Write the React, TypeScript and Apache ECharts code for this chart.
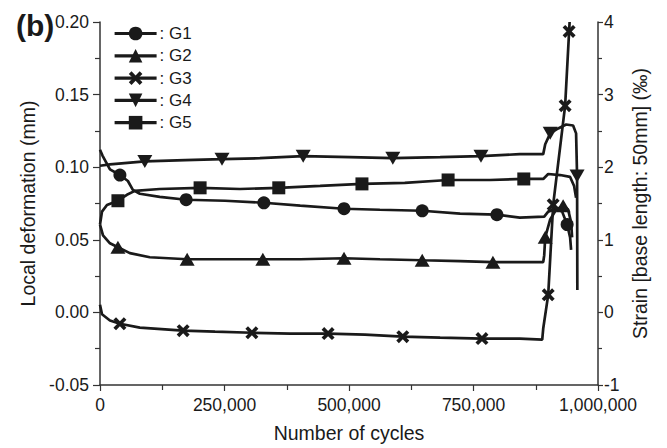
import React, { useEffect, useRef } from "react";
import * as echarts from "echarts";

// ---- data (cycles, local deformation in mm) ----
const xTicks = [0, 250000, 500000, 750000, 1000000];
const seriesNames = ["G1", "G2", "G3", "G4", "G5"];

const g1Points: [number, number][] = [
  [0, 0.112], [5000, 0.108], [20000, 0.0985], [40000, 0.0946], [56000, 0.0905],
  [66000, 0.0844], [80000, 0.0817], [120000, 0.0796], [173000, 0.0776], [251000, 0.0769],
  [329000, 0.0755], [402000, 0.0735], [490000, 0.0714], [562000, 0.0707], [647000, 0.07],
  [723000, 0.068], [797000, 0.0673], [843000, 0.0653], [892000, 0.066], [900000, 0.0694],
  [916000, 0.0714], [928000, 0.0694], [938000, 0.0605], [944000, 0.0517], [946000, 0.043],
];
const g1Markers = [40000, 173000, 329000, 490000, 647000, 797000, 938000];

const g2Points: [number, number][] = [
  [0, 0.0605], [6000, 0.053], [20000, 0.0476], [36000, 0.0449], [60000, 0.0408],
  [100000, 0.038], [175000, 0.0366], [327000, 0.0366], [402000, 0.0366], [490000, 0.0373],
  [562000, 0.0366], [647000, 0.0359], [723000, 0.0353], [789000, 0.0346], [890000, 0.0346],
  [892000, 0.0394], [894000, 0.0517], [904000, 0.064], [916000, 0.0708], [930000, 0.0735],
  [940000, 0.0708], [946000, 0.062], [948000, 0.0517],
];
const g2Markers = [36000, 175000, 327000, 490000, 647000, 789000, 894000, 930000];

const g3Points: [number, number][] = [
  [0, 0.0053], [4000, -0.0013], [20000, -0.0056], [40000, -0.0078], [80000, -0.0105],
  [167000, -0.0126], [231000, -0.0133], [305000, -0.014], [382000, -0.0146], [458000, -0.0146],
  [532000, -0.0153], [608000, -0.0167], [683000, -0.0174], [767000, -0.018], [843000, -0.018],
  [888000, -0.0187], [890000, -0.0111], [900000, 0.0121], [910000, 0.0742], [934000, 0.1424],
  [942000, 0.1935], [943000, 0.2],
];
const g3Markers = [40000, 167000, 305000, 458000, 608000, 767000, 900000, 910000, 934000, 942000];

const g4Points: [number, number][] = [
  [0, 0.101], [20000, 0.102], [90000, 0.104], [171000, 0.1049], [245000, 0.1055],
  [321000, 0.1062], [408000, 0.1076], [502000, 0.1069], [588000, 0.1062], [683000, 0.1069],
  [765000, 0.1076], [843000, 0.109], [890000, 0.109], [894000, 0.1158], [904000, 0.1233],
  [920000, 0.1267], [936000, 0.1294], [950000, 0.1287], [956000, 0.1233], [958000, 0.094],
  [958500, 0.0155],
];
const g4Markers = [90000, 245000, 408000, 588000, 765000, 904000, 958000];

const g5Points: [number, number][] = [
  [0, 0.0605], [4000, 0.0694], [14000, 0.074], [36000, 0.0769], [54000, 0.081],
  [70000, 0.0837], [120000, 0.085], [201000, 0.0858], [281000, 0.085], [359000, 0.0858],
  [442000, 0.0871], [526000, 0.0885], [612000, 0.0892], [699000, 0.0912], [783000, 0.0912],
  [851000, 0.0919], [890000, 0.0919], [900000, 0.0953], [924000, 0.0946], [944000, 0.0933],
  [952000, 0.0871], [956000, 0.079],
];
const g5Markers = [36000, 201000, 359000, 526000, 699000, 851000];

const FONT = "'Liberation Sans', Arial, Helvetica, sans-serif";
const INK = "#1a1a1a";

function buildData(points: [number, number][], markers: number[]) {
  return points.map((p) =>
    markers.includes(p[0]) ? { value: p } : { value: p, symbol: "none" }
  );
}

const X_SYMBOL =
  "path://M0,2 L2,0 L5,3 L8,0 L10,2 L7,5 L10,8 L8,10 L5,7 L2,10 L0,8 L3,5 Z";
const DOWN_TRI = "path://M0,0 L10,0 L5,9 Z";

export default function App() {
  const ref = useRef<HTMLDivElement>(null);
  useEffect(() => {
    if (!ref.current) return;
    const chart = echarts.init(ref.current, null, { renderer: "svg" });
    const mk = (
      name: string,
      pts: [number, number][],
      markers: number[],
      symbol: string,
      size: number | number[]
    ) => ({
      name,
      type: "line",
      data: buildData(pts, markers),
      symbol,
      symbolSize: size,
      showSymbol: true,
      showAllSymbol: true,
      symbolKeepAspect: false,
      lineStyle: { color: INK, width: 2.7 },
      itemStyle: { color: INK, borderWidth: 0 },
      clip: true,
      z: 3,
    });
    chart.setOption({
      animation: false,
      backgroundColor: "#ffffff",
      textStyle: { fontFamily: FONT },
      title: {
        text: "(b)",
        left: 11,
        top: 5,
        textStyle: { fontFamily: FONT, fontSize: 30, fontWeight: "bold", color: INK },
      },
      grid: { left: 100, right: 69, top: 22, bottom: 59, containLabel: false },
      legend: {
        left: 113,
        top: 25,
        padding: 0,
        orient: "vertical",
        itemWidth: 42,
        itemHeight: 17,
        itemGap: 5.3,
        data: seriesNames,
        formatter: (n: string) => ": " + n,
        lineStyle: { width: 3.2, color: INK },
        textStyle: { fontFamily: FONT, fontSize: 17, color: INK, padding: [0, 0, 0, -2] },
      },
      xAxis: {
        type: "value",
        min: xTicks[0],
        max: xTicks[xTicks.length - 1],
        interval: 250000,
        name: "Number of cycles",
        nameLocation: "middle",
        nameGap: 38,
        nameTextStyle: { fontFamily: FONT, fontSize: 19.5, color: INK },
        axisLine: { show: true, onZero: false, lineStyle: { color: "#333", width: 1.5 } },
        axisTick: { show: true, inside: false, length: 6, lineStyle: { color: "#333", width: 1.2 } },
        minorTick: { show: true, splitNumber: 2, length: 5, lineStyle: { color: "#333", width: 1.2 } },
        splitLine: { show: false },
        axisLabel: {
          fontFamily: FONT,
          fontSize: 17.5,
          color: INK,
          margin: 11,
          formatter: (v: number) => v.toLocaleString("en-US"),
        },
      },
      yAxis: [
        {
          type: "value",
          min: -0.05,
          max: 0.2,
          interval: 0.05,
          position: "left",
          name: "Local deformation (mm)",
          nameLocation: "middle",
          nameGap: 58,
          nameTextStyle: { fontFamily: FONT, fontSize: 19.5, color: INK },
          axisLine: { show: true, lineStyle: { color: "#333", width: 1.5 } },
          axisTick: { show: true, inside: false, length: 7, lineStyle: { color: "#333", width: 1.2 } },
          minorTick: { show: true, splitNumber: 2, length: 5, lineStyle: { color: "#333", width: 1.2 } },
          splitLine: { show: false },
          axisLabel: {
            fontFamily: FONT,
            fontSize: 17.5,
            color: INK,
            margin: 11,
            formatter: (v: number) => v.toFixed(2),
          },
        },
        {
          type: "value",
          min: -1,
          max: 4,
          interval: 1,
          position: "right",
          name: "Strain [base length: 50mm] (‰)",
          nameLocation: "middle",
          nameGap: 27,
          nameRotate: 90,
          nameTextStyle: { fontFamily: FONT, fontSize: 19.5, color: INK },
          axisLine: { show: true, lineStyle: { color: "#333", width: 1.5 } },
          axisTick: { show: true, inside: false, length: 5, lineStyle: { color: "#333", width: 1.2 } },
          minorTick: { show: true, splitNumber: 2, length: 4, lineStyle: { color: "#333", width: 1.2 } },
          splitLine: { show: false },
          axisLabel: {
            fontFamily: FONT,
            fontSize: 17.5,
            color: INK,
            margin: 6,
            formatter: (v: number) => String(v),
          },
        },
      ],
      series: [
        mk("G1", g1Points, g1Markers, "circle", 13),
        mk("G2", g2Points, g2Markers, "triangle", [15, 13]),
        mk("G3", g3Points, g3Markers, X_SYMBOL, 13),
        mk("G4", g4Points, g4Markers, DOWN_TRI, [15, 13]),
        mk("G5", g5Points, g5Markers, "rect", 13),
      ],
    });
    return () => chart.dispose();
  }, []);
  return (
    <div
      ref={ref}
      style={{ position: "fixed", left: 0, top: 0, width: 667, height: 448, background: "#fff" }}
    />
  );
}
